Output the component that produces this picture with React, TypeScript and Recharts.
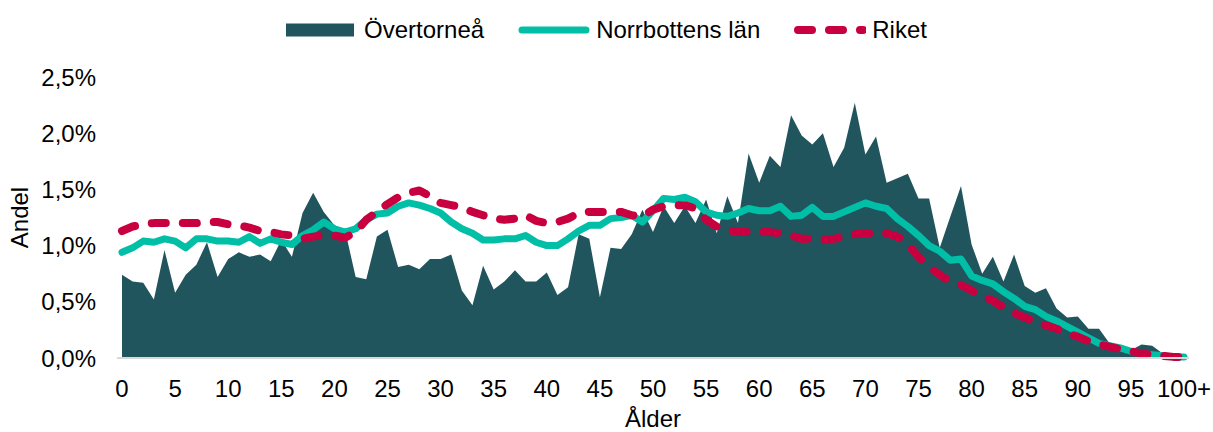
import {
  Area,
  ComposedChart,
  Label,
  Legend,
  Line,
  XAxis,
  YAxis,
} from "recharts";

const FONT = '"Liberation Sans", Arial, sans-serif';

const ages = [
  "0", "1", "2", "3", "4", "5", "6", "7", "8", "9",
  "10", "11", "12", "13", "14", "15", "16", "17", "18", "19",
  "20", "21", "22", "23", "24", "25", "26", "27", "28", "29",
  "30", "31", "32", "33", "34", "35", "36", "37", "38", "39",
  "40", "41", "42", "43", "44", "45", "46", "47", "48", "49",
  "50", "51", "52", "53", "54", "55", "56", "57", "58", "59",
  "60", "61", "62", "63", "64", "65", "66", "67", "68", "69",
  "70", "71", "72", "73", "74", "75", "76", "77", "78", "79",
  "80", "81", "82", "83", "84", "85", "86", "87", "88", "89",
  "90", "91", "92", "93", "94", "95", "96", "97", "98", "99",
  "100+",
];

// andel av befolkningen, procent
const overtornea = [
  0.74, 0.68, 0.67, 0.52, 0.96, 0.58, 0.74, 0.83, 1.03, 0.72,
  0.88, 0.94, 0.9, 0.92, 0.86, 1.05, 0.9, 1.29, 1.47, 1.3,
  1.18, 1.14, 0.72, 0.7, 1.08, 1.14, 0.81, 0.83, 0.79, 0.88,
  0.88, 0.92, 0.6, 0.47, 0.82, 0.61, 0.68, 0.78, 0.68, 0.68,
  0.76, 0.56, 0.63, 1.1, 1.06, 0.54, 0.98, 0.97, 1.1, 1.32,
  1.12, 1.35, 1.2, 1.35, 1.2, 1.41, 1.11, 1.44, 1.2, 1.82,
  1.56, 1.8, 1.7, 2.16, 1.98, 1.9, 2.0, 1.7, 1.87, 2.27,
  1.81, 1.97, 1.56, 1.6, 1.64, 1.42, 1.42, 0.98, 1.26, 1.53,
  1.01, 0.75, 0.9, 0.68, 0.92, 0.64, 0.58, 0.62, 0.44, 0.36,
  0.37, 0.26, 0.26, 0.13, 0.1, 0.07, 0.12, 0.11, 0.04, 0.02,
  0.01,
];

const norrbotten = [
  0.94, 0.98, 1.04, 1.03, 1.06, 1.04, 0.98, 1.06, 1.06, 1.04,
  1.04, 1.03, 1.08, 1.02, 1.06, 1.03, 1.01, 1.09, 1.14, 1.21,
  1.15, 1.12, 1.15, 1.23, 1.28, 1.29, 1.35, 1.38, 1.36, 1.33,
  1.29, 1.21, 1.15, 1.11, 1.05, 1.05, 1.06, 1.06, 1.09, 1.03,
  1.0, 1.0, 1.06, 1.13, 1.18, 1.18, 1.24, 1.25, 1.27, 1.21,
  1.31, 1.42, 1.41, 1.43, 1.39, 1.3, 1.27, 1.26, 1.29, 1.33,
  1.31, 1.31, 1.35, 1.26, 1.27, 1.34, 1.26, 1.26, 1.3, 1.34,
  1.38, 1.35, 1.33, 1.24, 1.17, 1.09, 1.0, 0.95, 0.87, 0.88,
  0.73, 0.69, 0.66, 0.59, 0.53, 0.46, 0.43, 0.37, 0.33, 0.28,
  0.23, 0.18, 0.13, 0.11, 0.09, 0.06, 0.04, 0.03, 0.02, 0.01,
  0.01,
];

const riket = [
  1.13, 1.17, 1.19, 1.2, 1.2, 1.2, 1.2, 1.2, 1.21, 1.21,
  1.19, 1.18, 1.16, 1.13, 1.12, 1.1, 1.09, 1.06, 1.08, 1.09,
  1.09, 1.07, 1.12, 1.23, 1.3, 1.37, 1.43, 1.47, 1.49, 1.44,
  1.38, 1.36, 1.34, 1.3, 1.27, 1.24, 1.23, 1.24, 1.27, 1.22,
  1.2, 1.21, 1.24, 1.29, 1.3, 1.3, 1.3, 1.3, 1.27, 1.26,
  1.32, 1.35, 1.36, 1.36, 1.33, 1.23, 1.17, 1.14, 1.12, 1.12,
  1.12, 1.12, 1.11, 1.09, 1.06, 1.06, 1.05, 1.06, 1.08, 1.1,
  1.11, 1.11, 1.11, 1.08, 1.01, 0.9, 0.81, 0.74, 0.68, 0.65,
  0.6, 0.55, 0.51, 0.45, 0.4, 0.36, 0.32, 0.29, 0.26, 0.22,
  0.19, 0.15, 0.12, 0.1, 0.08, 0.06, 0.04, 0.03, 0.02, 0.01,
  0.01,
];

const yTicks = [0, 0.5, 1, 1.5, 2, 2.5];

const data = ages.map((age, i) => ({
  age,
  overtornea: overtornea[i],
  norrbotten: norrbotten[i],
  riket: riket[i],
}));

const colors = {
  overtornea: "#21555E",
  norrbotten: "#00BFA6",
  riket: "#C8003F",
};

const tick = { fill: "#000", fontSize: 24, fontFamily: FONT };

function Swatch({ kind }: { kind: string }) {
  return (
    <svg width={72} height={16} style={{ marginRight: 6, flexShrink: 0 }}>
      {kind === "area" && <rect x={0} y={1.5} width={68} height={13} fill={colors.overtornea} />}
      {kind === "line" && (
        <line x1={4} y1={8} x2={68} y2={8} stroke={colors.norrbotten} strokeWidth={7} strokeLinecap="round" />
      )}
      {kind === "dash" && (
        <line
          x1={4}
          y1={8}
          x2={69}
          y2={8}
          stroke={colors.riket}
          strokeWidth={8}
          strokeLinecap="round"
          strokeDasharray="14 17"
        />
      )}
    </svg>
  );
}

const legendItems = [
  { label: "Övertorneå", kind: "area" },
  { label: "Norrbottens län", kind: "line" },
  { label: "Riket", kind: "dash" },
];

function renderLegend() {
  return (
    <div
      style={{
        display: "flex",
        justifyContent: "center",
        alignItems: "center",
        height: 28,
        fontFamily: FONT,
        fontSize: 24,
        color: "#000",
      }}
    >
      {legendItems.map((it, i) => (
        <div
          key={it.label}
          style={{ display: "flex", alignItems: "center", marginRight: i < legendItems.length - 1 ? 34 : 0 }}
        >
          <Swatch kind={it.kind} />
          <span>{it.label}</span>
        </div>
      ))}
    </div>
  );
}

function AxisTitle({ viewBox, text, vertical }: any) {
  const { x, y, width, height } = viewBox;
  const tx = vertical ? x + 28 : x + width / 2;
  const ty = vertical ? y + height / 2 : y + height - 5;
  return (
    <text
      x={tx}
      y={ty}
      textAnchor="middle"
      transform={vertical ? `rotate(-90 ${tx} ${ty})` : undefined}
      fill="#000"
      fontSize={24}
      fontFamily={FONT}
    >
      {text}
    </text>
  );
}

export default function App() {
  return (
    <div style={{ position: "absolute", left: 0, top: 0, background: "#fff" }}>
      <ComposedChart
        width={1213}
        height={432}
        data={data}
        margin={{ top: 77, right: 24, bottom: 0, left: 0 }}
      >
        <XAxis
          dataKey="age"
          interval={4}
          height={74}
          padding={{ left: 5, right: 5 }}
          tick={tick}
          tickLine={false}
          tickSize={0}
          tickMargin={22}
          axisLine={{ stroke: "#D9D9D9", strokeWidth: 2 }}
        >
          <Label content={(p: any) => <AxisTitle viewBox={p.viewBox} text="Ålder" />} />
        </XAxis>
        <YAxis
          width={117}
          domain={[0, 2.5]}
          ticks={yTicks}
          tick={tick}
          tickLine={false}
          axisLine={false}
          tickSize={0}
          tickMargin={21}
          tickFormatter={(v: number) => `${v.toFixed(1).replace(".", ",")}%`}
        >
          <Label content={(p: any) => <AxisTitle viewBox={p.viewBox} text="Andel" vertical />} />
        </YAxis>
        <Legend
          layout="horizontal"
          verticalAlign="middle"
          align="center"
          wrapperStyle={{ top: 16, left: 0, width: 1213 }}
          content={renderLegend}
        />
        <Area
          type="linear"
          dataKey="overtornea"
          name="Övertorneå"
          fill={colors.overtornea}
          fillOpacity={1}
          stroke="none"
          isAnimationActive={false}
          activeDot={false}
        />
        <Line
          type="linear"
          dataKey="norrbotten"
          name="Norrbottens län"
          stroke={colors.norrbotten}
          strokeWidth={7}
          strokeLinecap="round"
          strokeLinejoin="round"
          dot={false}
          activeDot={false}
          isAnimationActive={false}
        />
        <Line
          type="linear"
          dataKey="riket"
          name="Riket"
          stroke={colors.riket}
          strokeWidth={8}
          strokeLinecap="round"
          strokeLinejoin="round"
          strokeDasharray="14 17"
          dot={false}
          activeDot={false}
          isAnimationActive={false}
        />
      </ComposedChart>
    </div>
  );
}
